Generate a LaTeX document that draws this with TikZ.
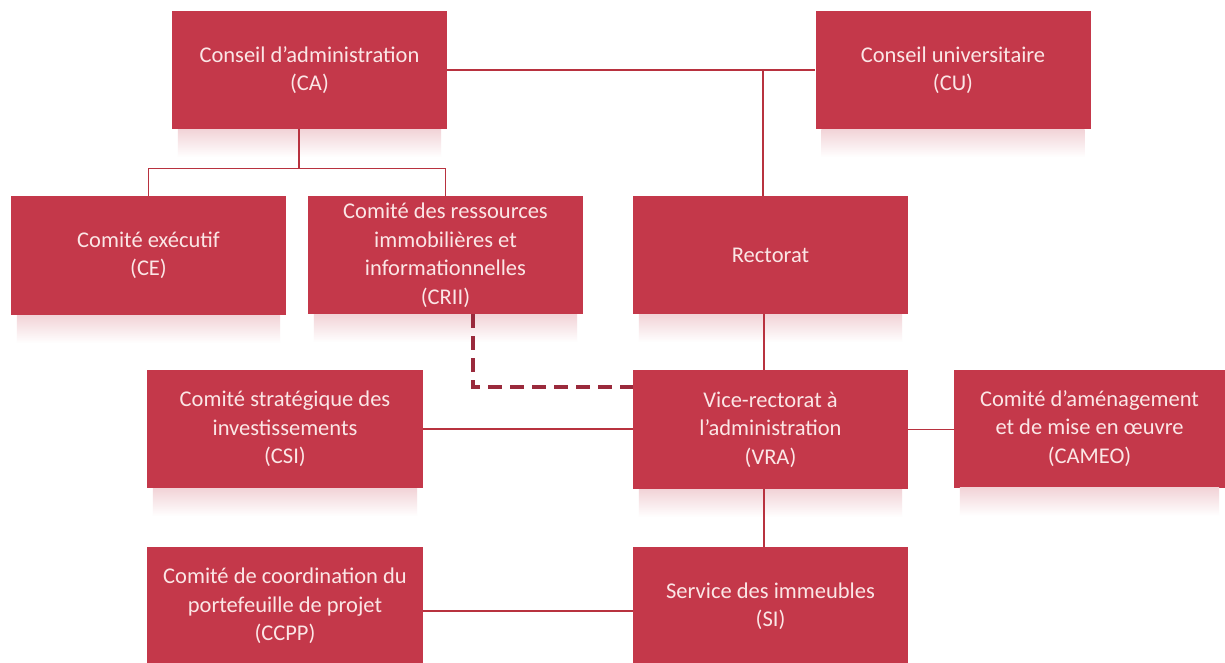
\documentclass[tikz,border=0pt]{standalone}
\usepackage{fontspec}
\setmainfont{Carlito}
\definecolor{boxred}{HTML}{C4384A}
\definecolor{linered}{HTML}{B8323F}
\definecolor{dashred}{HTML}{9A2A3C}
\definecolor{txt}{HTML}{FBE6E6}
\definecolor{shadowpink}{HTML}{F2D3D7}
\newcommand{\softshadow}[1]{%
  \shade[top color=shadowpink, bottom color=white]
    ([xshift=6pt]#1.south west) rectangle ([xshift=-6pt,yshift=-28pt]#1.south east);}
\begin{document}
\begin{tikzpicture}[x=1pt,y=-1pt,
  orgbox/.style={fill=boxred, text=txt, minimum width=275pt, minimum height=118pt,
    align=center, inner sep=0pt, font=\fontsize{22.5}{28.5}\selectfont},
  link/.style={draw=linered, line width=1.4pt},
  dashlink/.style={draw=dashred, line width=3.2pt, dash pattern=on 14pt off 8pt}]
\useasboundingbox (0,0) rectangle (1225,662);
\fill[white] (0,0) rectangle (1225,662);

\node[orgbox] (CA) at (309.5,70) {Conseil d’administration\\(CA)};
\node[orgbox] (CU) at (953,70) {Conseil universitaire\\(CU)};
\node[orgbox, minimum height=119pt] (CE) at (148.5,255.5) {Comité exécutif\\(CE)};
\node[orgbox] (CRII) at (445.5,255) {Comité des ressources\\immobilières et\\informationnelles\\(CRII)};
\node[orgbox] (RE) at (770.5,255) {Rectorat};
\node[orgbox, minimum width=276pt] (CSI) at (285,429) {Comité stratégique des\\investissements\\(CSI)};
\node[orgbox, minimum height=119pt] (VRA) at (770.5,429.5) {Vice-rectorat à\\l’administration\\(VRA)};
\node[orgbox, minimum width=271pt] (CAMEO) at (1089.5,428.5) {Comité d’aménagement\\et de mise en œuvre\\(CAMEO)};
\node[orgbox, minimum width=276pt] (CCPP) at (285,606) {Comité de coordination du\\portefeuille de projet\\(CCPP)};
\node[orgbox] (SI) at (770.5,606) {Service des immeubles\\(SI)};

% soft shadows below the boxes
\softshadow{CA}\softshadow{CU}\softshadow{CE}\softshadow{CRII}\softshadow{RE}
\softshadow{CSI}\softshadow{VRA}\softshadow{CAMEO}

% connectors
\draw[link] (CA.east) -- (CU.west);
\draw[link] ([xshift=-7.5pt]RE.north) -- ([xshift=-7.5pt]RE.north |- CA.east);
\draw[link] ([xshift=-10.5pt]CA.south) -- ++(0,39) coordinate (fork);
\draw[link] (CE.north) |- (fork) -| (CRII.north);
\draw[link] ([xshift=-6.5pt]RE.south) -- ([xshift=-6.5pt]VRA.north);
\draw[link] ([xshift=-6.5pt]VRA.south) -- ([xshift=-6.5pt]SI.north);
\draw[link] (CSI.east) -- (CSI.east -| VRA.west);
\draw[link] (VRA.east) -- (VRA.east -| CAMEO.west);
\draw[link] ([yshift=-5pt]CCPP.east) -- ([yshift=-5pt]SI.west);
\draw[dashlink] ([xshift=27.5pt]CRII.south) |- ([yshift=42.5pt]VRA.west);
\end{tikzpicture}
\end{document}
